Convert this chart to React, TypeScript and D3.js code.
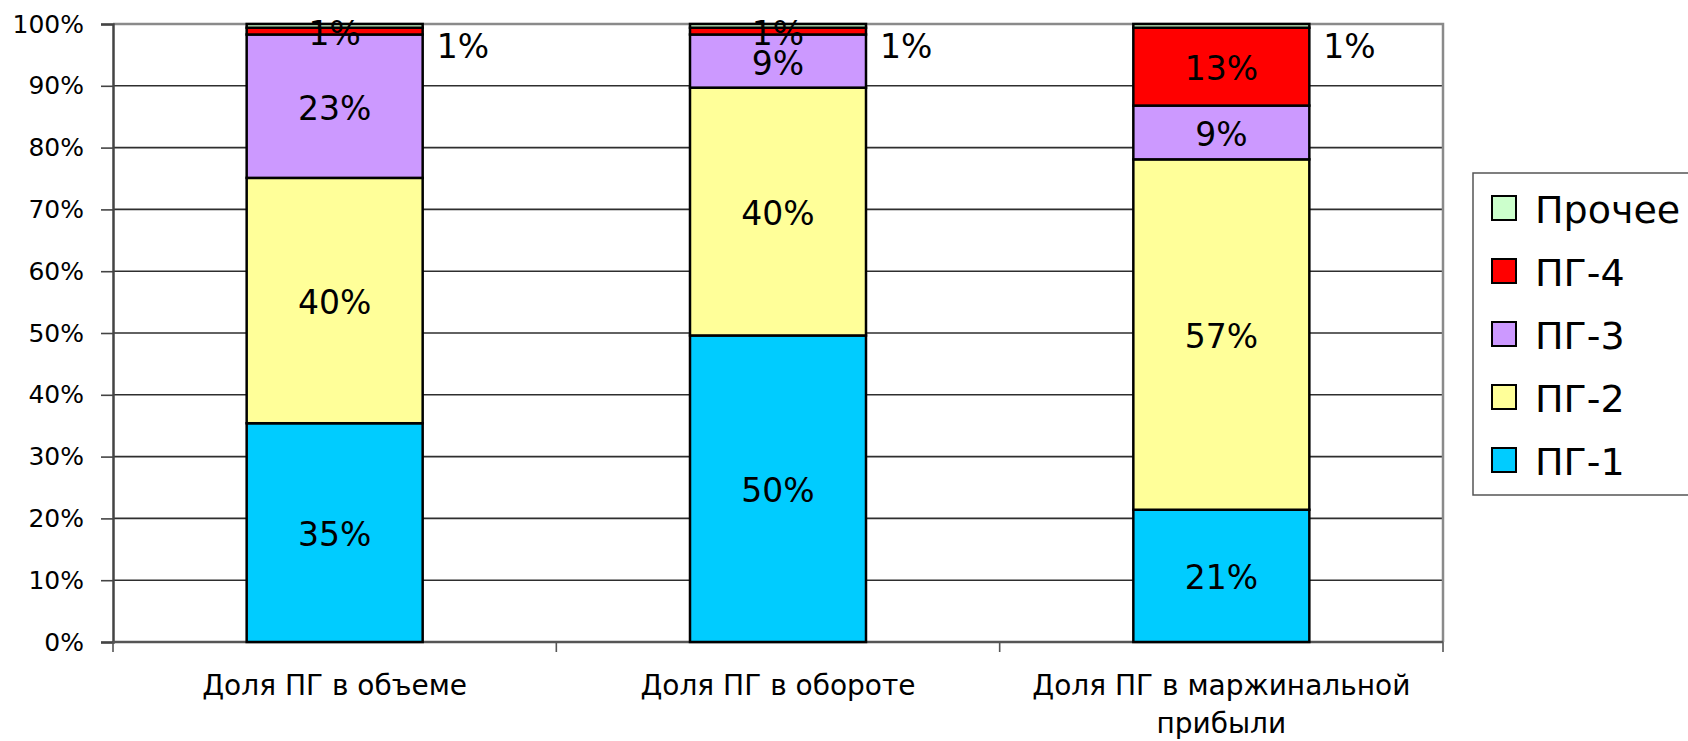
import React, { useEffect, useRef } from 'react';
import * as d3 from 'd3';

const categories = ['Доля ПГ в объеме', 'Доля ПГ в обороте', 'Доля ПГ в маржинальной\nприбыли'];
const seriesNames = ['ПГ-1', 'ПГ-2', 'ПГ-3', 'ПГ-4', 'Прочее'];
const pg1 = [35.4, 49.6, 21.4];
const pg2 = [39.7, 40.1, 56.7];
const pg3 = [23.2, 8.6, 8.7];
const pg4 = [1.1, 1.1, 12.6];
const other = [0.6, 0.6, 0.6];
const seriesColors = ['#00CCFF', '#FFFF99', '#CC99FF', '#FF0000', '#CCFFCC'];
const yTicks = [0, 10, 20, 30, 40, 50, 60, 70, 80, 90, 100];

const FONT = '"DejaVu Sans", Verdana, sans-serif';

const App = () => {
    const ref = useRef<SVGSVGElement>(null);

    useEffect(() => {
        const svg = d3.select(ref.current);
        svg.selectAll('*').remove();

        const left = 113, right = 1443, top = 24, bottom = 642;
        const values = [pg1, pg2, pg3, pg4, other];
        const rows = categories.map((c, i) => {
            const r: any = { cat: c };
            seriesNames.forEach((s, j) => { r[s] = values[j][i]; });
            return r;
        });
        const stacked = d3.stack().keys(seriesNames)(rows);

        const x = d3.scaleBand()
            .domain(categories)
            .range([left, right])
            .paddingInner(0.603)
            .paddingOuter(0.3015);
        const y = d3.scaleLinear().domain([0, 100]).range([bottom, top]);
        const xb = d3.scaleLinear().domain([0, categories.length]).range([left, right]);
        const pct = (v: number) => d3.format('.0f')(v) + '%';

        // gridlines
        svg.append('g')
            .selectAll('line')
            .data(yTicks.filter(t => t > 0 && t < 100))
            .enter()
            .append('line')
            .attr('x1', left).attr('x2', right)
            .attr('y1', d => y(d)).attr('y2', d => y(d))
            .attr('stroke', '#2e2e2e')
            .attr('stroke-width', 1.6);

        // plot border (top & right)
        svg.append('path')
            .attr('d', `M${left},${y(100)}H${right}V${bottom}`)
            .attr('fill', 'none')
            .attr('stroke', '#8a8a8a')
            .attr('stroke-width', 2.5);

        // y axis
        const yAxis = svg.append('g')
            .attr('transform', `translate(${left},0)`)
            .call(d3.axisLeft(y).tickValues(yTicks).tickSize(12).tickPadding(17).tickFormat(d => d + '%'));
        yAxis.select('.domain').attr('stroke', '#444').attr('stroke-width', 2.5);
        yAxis.selectAll('.tick line').attr('stroke', '#444').attr('stroke-width', 1.6);
        yAxis.selectAll('text')
            .attr('font-family', FONT)
            .attr('font-size', 25)
            .attr('fill', '#000');

        // x axis
        svg.append('line')
            .attr('x1', left).attr('x2', right)
            .attr('y1', bottom).attr('y2', bottom)
            .attr('stroke', '#555').attr('stroke-width', 2.5);
        svg.append('g')
            .selectAll('line')
            .data(d3.range(categories.length + 1))
            .enter()
            .append('line')
            .attr('x1', d => xb(d)).attr('x2', d => xb(d))
            .attr('y1', bottom).attr('y2', bottom + 10)
            .attr('stroke', '#555').attr('stroke-width', 1.6);

        const xl = svg.append('g')
            .selectAll('text')
            .data(categories)
            .enter()
            .append('text')
            .attr('x', d => x(d)! + x.bandwidth() / 2)
            .attr('y', 695)
            .attr('text-anchor', 'middle')
            .attr('font-family', FONT)
            .attr('font-size', 28)
            .attr('fill', '#000');
        xl.each(function (d) {
            const lines = d.split('\n');
            const t = d3.select(this);
            lines.forEach((ln, i) => {
                t.append('tspan')
                    .attr('x', x(d)! + x.bandwidth() / 2)
                    .attr('dy', i === 0 ? 0 : 38)
                    .text(ln);
            });
        });

        // bars
        const layers = svg.append('g')
            .selectAll('g')
            .data(stacked)
            .enter()
            .append('g')
            .attr('fill', (d, i) => seriesColors[i]);
        layers.selectAll('rect')
            .data(d => d)
            .enter()
            .append('rect')
            .attr('x', d => x(d.data.cat as string)!)
            .attr('y', d => y(d[1]))
            .attr('width', x.bandwidth())
            .attr('height', d => y(d[0]) - y(d[1]))
            .attr('stroke', '#000')
            .attr('stroke-width', 2.5);

        // data labels
        stacked.forEach((s) => {
            const isOther = s.key === 'Прочее';
            svg.append('g')
                .selectAll('text')
                .data(s)
                .enter()
                .append('text')
                .attr('x', d => isOther ? x(d.data.cat as string)! + x.bandwidth() + 14 : x(d.data.cat as string)! + x.bandwidth() / 2)
                .attr('y', d => isOther ? 46 : (y(d[0]) + y(d[1])) / 2 + 2)
                .attr('text-anchor', isOther ? 'start' : 'middle')
                .attr('dominant-baseline', 'central')
                .attr('font-family', FONT)
                .attr('font-size', 33)
                .attr('fill', '#000')
                .text(d => pct(d[1] - d[0]));
        });

        // legend
        const lg = svg.append('g');
        lg.append('rect')
            .attr('x', 1473).attr('y', 173)
            .attr('width', 260).attr('height', 322)
            .attr('fill', '#fff')
            .attr('stroke', '#555')
            .attr('stroke-width', 1.5);
        const legendOrder = seriesNames.slice().reverse();
        const items = lg.selectAll('g.item')
            .data(legendOrder)
            .enter()
            .append('g')
            .attr('class', 'item')
            .attr('transform', (d, i) => `translate(1492, ${208 + i * 63})`);
        items.append('rect')
            .attr('x', 0).attr('y', -12)
            .attr('width', 24).attr('height', 24)
            .attr('fill', d => seriesColors[seriesNames.indexOf(d)])
            .attr('stroke', '#000')
            .attr('stroke-width', 2);
        items.append('text')
            .attr('x', 43).attr('y', 2)
            .attr('dominant-baseline', 'central')
            .attr('font-family', FONT)
            .attr('font-size', 38)
            .attr('fill', '#000')
            .text(d => d);
    }, []);

    return (
        <svg
            ref={ref}
            width={1688}
            height={741}
            style={{ position: 'absolute', left: 0, top: 0, background: '#fff' }}
        />
    );
};

export default App;
